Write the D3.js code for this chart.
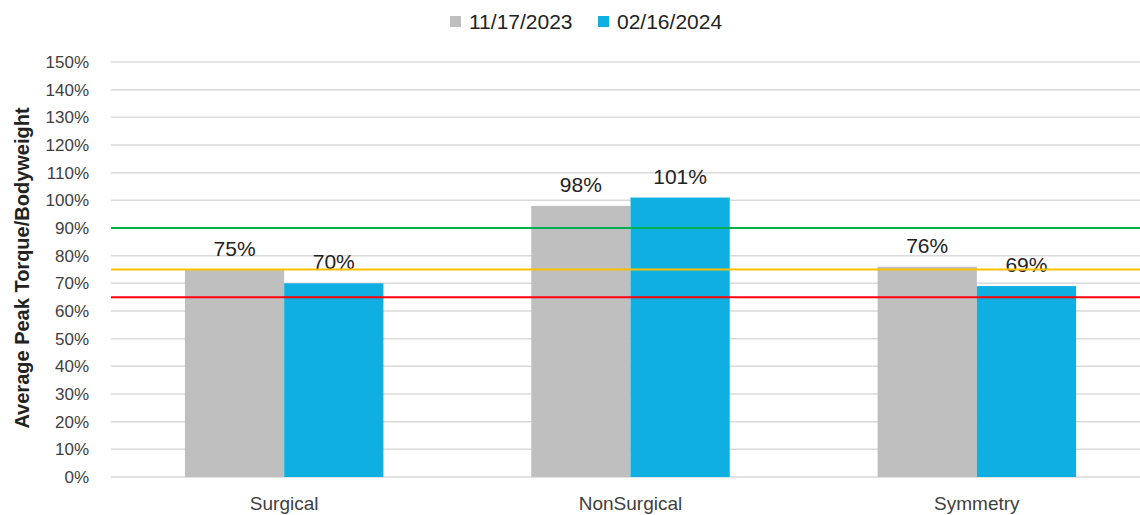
<!DOCTYPE html>
<html>
<head>
<meta charset="utf-8">
<script src="https://cdn.jsdelivr.net/npm/d3@7"></script>
<style>
  body { margin: 0; background: #fff; }
  text { font-family: "Liberation Sans", Arial, sans-serif; }
</style>
</head>
<body>
<div id="chart"></div>
<script>
// data
const categories = ["Surgical", "NonSurgical", "Symmetry"];
const seriesNames = ["11/17/2023", "02/16/2024"];
const seriesColors = ["#BFBFBF", "#0FAFE1"];
// one row per series, one value per category (percent)
const values = [[75, 98, 76], [70, 101, 69]];
const yTicks = [0, 10, 20, 30, 40, 50, 60, 70, 80, 90, 100, 110, 120, 130, 140, 150];
const refValues = [90, 75, 65];
const refColors = ["#00B050", "#FFC000", "#FF0000"];

const width = 1140, height = 515;

const svg = d3.select("#chart")
    .append("svg")
    .attr("width", width)
    .attr("height", height);

// scales
const x = d3.scaleBand()
    .domain(categories)
    .range([111, 1150]);

const xSub = d3.scaleBand()
    .domain(seriesNames)
    .range([0, x.bandwidth()])
    .paddingInner(0)
    .paddingOuter(0.745);

const y = d3.scaleLinear()
    .domain([0, 150])
    .range([477, 62]);

// gridlines
svg.append("g")
    .selectAll("line")
    .data(yTicks)
    .join("line")
    .attr("x1", 111)
    .attr("x2", width)
    .attr("y1", d => y(d))
    .attr("y2", d => y(d))
    .style("stroke", "#D9D9D9")
    .style("stroke-width", 1.5);

// y tick labels
svg.append("g")
    .selectAll("text")
    .data(yTicks)
    .join("text")
    .attr("x", 89)
    .attr("y", d => y(d))
    .attr("dy", "0.35em")
    .attr("text-anchor", "end")
    .style("font-size", "17px")
    .style("fill", "#404040")
    .text(d => d + "%");

// bars
const rows = (s, si) => categories.map((c, ci) => ({ series: s, cat: c, v: values[si][ci] }));

const group = svg.append("g")
    .selectAll("g")
    .data(seriesNames)
    .join("g")
    .style("fill", (d, i) => seriesColors[i]);

group.selectAll("rect")
    .data(rows)
    .join("rect")
    .attr("x", d => x(d.cat) + xSub(d.series))
    .attr("width", xSub.bandwidth())
    .attr("y", d => y(d.v))
    .attr("height", d => y(0) - y(d.v));

// reference lines
svg.append("g")
    .selectAll("line")
    .data(refValues)
    .join("line")
    .attr("x1", 111)
    .attr("x2", width)
    .attr("y1", d => y(d))
    .attr("y2", d => y(d))
    .style("stroke", (d, i) => refColors[i])
    .style("stroke-width", 2);

// value labels
group.selectAll("text")
    .data(rows)
    .join("text")
    .attr("x", d => x(d.cat) + xSub(d.series) + xSub.bandwidth() / 2)
    .attr("y", d => y(d.v) - 14)
    .attr("text-anchor", "middle")
    .style("font-size", "21px")
    .style("fill", "#222")
    .text(d => d.v + "%");

// category labels
svg.append("g")
    .selectAll("text")
    .data(categories)
    .join("text")
    .attr("x", d => x(d) + x.bandwidth() / 2)
    .attr("y", 510)
    .attr("text-anchor", "middle")
    .style("font-size", "19px")
    .style("fill", "#404040")
    .text(d => d);

// y axis title
svg.append("text")
    .attr("transform", "translate(29,268) rotate(-90)")
    .attr("text-anchor", "middle")
    .style("font-size", "20px")
    .style("font-weight", "bold")
    .style("fill", "#222")
    .text("Average Peak Torque/Bodyweight");

// legend
const legendX = [450, 598];
const legend = svg.append("g")
    .selectAll("g")
    .data(seriesNames)
    .join("g")
    .attr("transform", (d, i) => "translate(" + legendX[i] + ",16)");

legend.append("rect")
    .attr("width", 11)
    .attr("height", 11)
    .style("fill", (d, i) => seriesColors[i]);

legend.append("text")
    .attr("x", 19)
    .attr("y", 6)
    .attr("dy", "0.35em")
    .style("font-size", "21px")
    .style("fill", "#222")
    .text(d => d);
</script>
</body>
</html>
